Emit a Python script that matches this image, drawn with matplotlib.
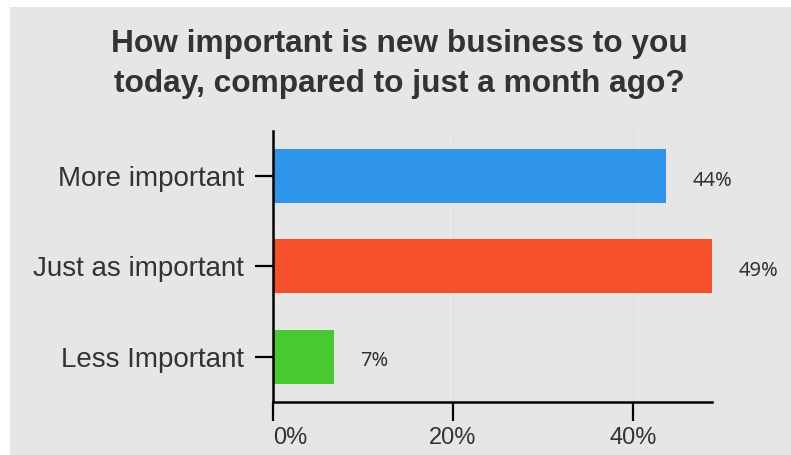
import matplotlib
matplotlib.use('Agg')
import matplotlib.pyplot as plt
from matplotlib.patches import Rectangle

title_lines = ['How important is new business to you', 'today, compared to just a month ago?']
categories = ['More important', 'Just as important', 'Less Important']
values = [43.7, 48.8, 6.8]
colors = ['#2f95ea', '#f6502b', '#48c930']
xticks = [0, 20, 40]
xtick_labels = ['0%', '20%', '40%']

bg = '#e6e6e6'
txt = '#333333'

fig = plt.figure(figsize=(7.91, 4.55), dpi=100)
fig.patch.set_facecolor('white')
# grey panel with a thin white margin at top and left
fig.patches.append(Rectangle((10 / 791, 0), 1, 1 - 7 / 455, transform=fig.transFigure,
                             facecolor=bg, edgecolor='none', zorder=-10))

ax = fig.add_axes([273 / 791, 1 - 401.7 / 455, (712 - 273) / 791, (401.7 - 131) / 455])
ax.set_zorder(5)
ax.set_facecolor(bg)

ypos = list(range(len(categories)))
ax.barh(ypos, values, height=0.6, color=colors, zorder=2)
ax.set_ylim(len(categories) - 0.5, -0.5)
ax.set_xlim(0, max(values))

for y, v in zip(ypos, values):
  ax.annotate('%d%%' % round(v), (v, y), xytext=(19, -3.5), textcoords='offset points',
              ha='left', va='center', fontsize=14.5, color=txt, family='Noto Sans',
              annotation_clip=False)

ax.set_yticks(ypos)
ax.set_yticklabels(categories, fontsize=20, color=txt, family='Liberation Sans')
ax.set_xticks(xticks)
ax.set_xticklabels(xtick_labels, fontsize=17, color=txt, family='Liberation Sans')
ax.get_xticklabels()[0].set_horizontalalignment('left')

ax.tick_params(axis='y', length=13, width=1.6, pad=8, color='black')
ax.tick_params(axis='x', length=14, width=1.6, pad=4, color='black')

for s in ['top', 'right']:
  ax.spines[s].set_visible(False)
for s in ['left', 'bottom']:
  ax.spines[s].set_linewidth(1.8)
  ax.spines[s].set_color('black')

ax.grid(axis='x', color='#e0e0e0', linewidth=1, zorder=1)
ax.set_axisbelow(True)

# title, one text per line so the baselines sit where the reference has them
for line, base in zip(title_lines, [52.3, 91.7]):
  fig.text(0.505, 1 - base / 455, line, ha='center', va='baseline', fontsize=22.8,
           fontweight='bold', color=txt, family='Liberation Sans')

fig.savefig('out.png', dpi=100)
